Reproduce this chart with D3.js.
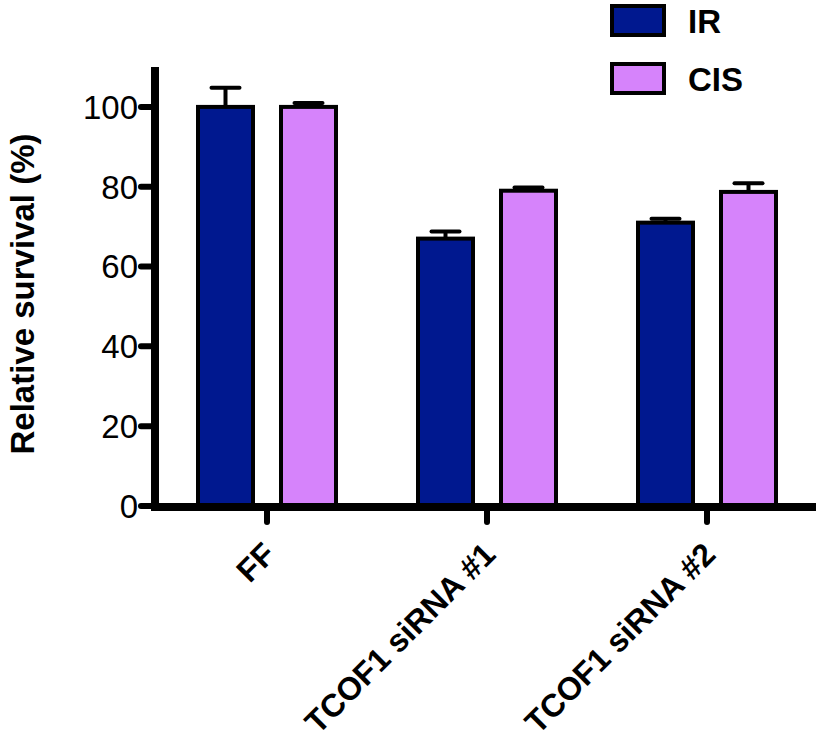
<!DOCTYPE html>
<html><head><meta charset="utf-8">
<script src="https://cdn.jsdelivr.net/npm/d3@7"></script>
<style>body{margin:0;background:#fff}</style>
</head><body>
<svg id="chart" width="819" height="745"></svg>
<script>
const categories = ["FF", "TCOF1 siRNA #1", "TCOF1 siRNA #2"];
const seriesNames = ["IR", "CIS"];
const irValues = [100, 67, 71];
const irErrors = [4.8, 1.8, 1.0];
const cisValues = [100, 79, 78.7];
const cisErrors = [1.0, 0.8, 2.2];
const yTicks = [0, 20, 40, 60, 80, 100];
const colors = ["#00188f", "#d683fb"];

const FONT = "Liberation Sans, Arial, sans-serif";
const svg = d3.select("#chart");
const x0 = 155, xEnd = 816;
const y = d3.scaleLinear().domain([0, 110]).range([506, 67]);
const x = d3.scaleBand().domain(categories).range([x0 + 2, x0 + 2 + 660]).paddingInner(0).paddingOuter(0);

const series = [
  {name: "IR", values: irValues, errors: irErrors},
  {name: "CIS", values: cisValues, errors: cisErrors}
];

const barW = 55;
function barX(cat, si) {
  const c = x(cat) + x.bandwidth() / 2;
  return si === 0 ? c - 14 - barW : c + 14;
}

series.forEach((s, si) => {
  categories.forEach((cat, i) => {
    const bx = barX(cat, si);
    const cx = bx + barW / 2;
    const top = y(s.values[i]);
    const et = y(s.values[i] + s.errors[i]);
    svg.append("line").attr("x1", cx).attr("x2", cx).attr("y1", top).attr("y2", et)
      .attr("stroke", "#000").attr("stroke-width", 4);
    svg.append("line").attr("x1", cx - 14).attr("x2", cx + 14).attr("y1", et).attr("y2", et)
      .attr("stroke", "#000").attr("stroke-width", 4).attr("stroke-linecap", "round");
    svg.append("rect").attr("x", bx).attr("y", top).attr("width", barW).attr("height", y(0) - top)
      .attr("fill", colors[si]).attr("stroke", "#000").attr("stroke-width", 4);
  });
});

// y axis
svg.append("line").attr("x1", x0).attr("x2", x0).attr("y1", y(110)).attr("y2", y(0) + 4)
  .attr("stroke", "#000").attr("stroke-width", 8);
yTicks.forEach(t => {
  svg.append("line").attr("x1", 141).attr("x2", x0).attr("y1", y(t)).attr("y2", y(t))
    .attr("stroke", "#000").attr("stroke-width", 6).attr("stroke-linecap", "round");
  svg.append("text").attr("x", 138).attr("y", y(t)).attr("dy", "0.36em")
    .attr("text-anchor", "end").attr("font-family", FONT)
    .attr("font-size", 33).text(t);
});

// x axis
svg.append("line").attr("x1", x0 - 4).attr("x2", xEnd).attr("y1", y(0) + 1).attr("y2", y(0) + 1)
  .attr("stroke", "#000").attr("stroke-width", 8);
categories.forEach(cat => {
  const cx = x(cat) + x.bandwidth() / 2;
  svg.append("line").attr("x1", cx).attr("x2", cx).attr("y1", y(0) + 4).attr("y2", y(0) + 16)
    .attr("stroke", "#000").attr("stroke-width", 6).attr("stroke-linecap", "round");
  svg.append("text").attr("transform", `translate(${cx - 6},${y(0) + 34}) rotate(-45)`)
    .attr("text-anchor", "end").attr("dy", "0.72em")
    .attr("font-family", FONT).attr("font-weight", "bold")
    .attr("font-size", 32).text(cat);
});

// y title
svg.append("text").attr("transform", `translate(34,294) rotate(-90)`)
  .attr("text-anchor", "middle").attr("font-family", FONT)
  .attr("font-weight", "bold").attr("font-size", 33).text("Relative survival (%)");

// legend
seriesNames.forEach((n, i) => {
  const ly = 6 + i * 58;
  svg.append("rect").attr("x", 612).attr("y", ly).attr("width", 52).attr("height", 29)
    .attr("fill", colors[i]).attr("stroke", "#000").attr("stroke-width", 4);
  svg.append("text").attr("x", 688).attr("y", ly + 15).attr("dy", "0.36em")
    .attr("font-family", FONT).attr("font-weight", "bold")
    .attr("font-size", 33).text(n);
});
</script>
</body></html>
